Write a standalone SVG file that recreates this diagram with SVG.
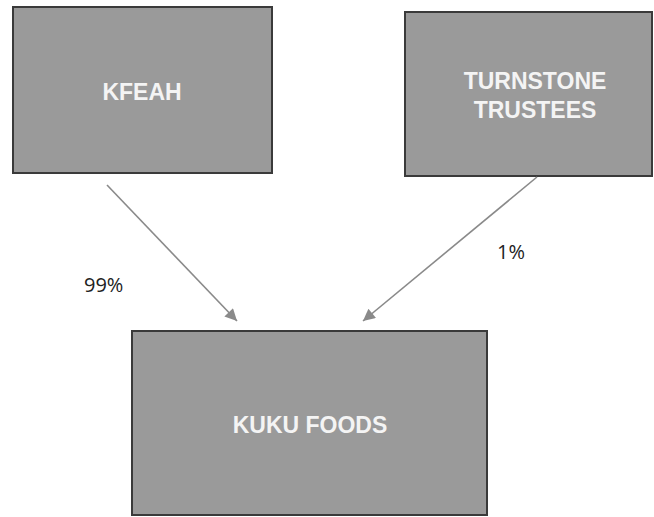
<svg xmlns="http://www.w3.org/2000/svg" width="654" height="517" viewBox="0 0 654 517">
<style>
.box{fill:#9a9a9a;stroke:#3a3a3a;stroke-width:2}
.lbl{font-family:"Liberation Sans",Arial,sans-serif;font-weight:bold;font-size:23px;fill:#f4f4f4;text-anchor:middle}
.pct{font-family:"Open Sans","Liberation Sans",sans-serif;font-size:20px;fill:#222}
.conn{stroke:#8a8a8a;stroke-width:1.6;fill:none;marker-end:url(#ah)}
</style>
<defs>
<marker id="ah" viewBox="0 0 10 10" refX="10" refY="5" markerWidth="13" markerHeight="12" markerUnits="userSpaceOnUse" orient="auto">
<path d="M0,0 L10,5 L0,10 z" fill="#8a8a8a"/>
</marker>
</defs>
<rect width="654" height="517" fill="#ffffff"/>
<g id="kfeah">
<rect class="box" x="13" y="7" width="259" height="166"/>
<text class="lbl" x="142" y="100">KFEAH</text>
</g>
<g id="turnstone">
<rect class="box" x="405" y="12" width="247" height="164"/>
<text class="lbl" x="535" y="89">TURNSTONE</text>
<text class="lbl" x="535" y="118">TRUSTEES</text>
</g>
<g id="kuku">
<rect class="box" x="132" y="331" width="355" height="184"/>
<text class="lbl" x="310" y="433">KUKU FOODS</text>
</g>
<g id="connectors">
<line class="conn" x1="107" y1="185" x2="237" y2="321"/>
<line class="conn" x1="537" y1="177" x2="363" y2="321"/>
<text class="pct" x="84" y="292">99%</text>
<text class="pct" x="497" y="259">1%</text>
</g>
</svg>
